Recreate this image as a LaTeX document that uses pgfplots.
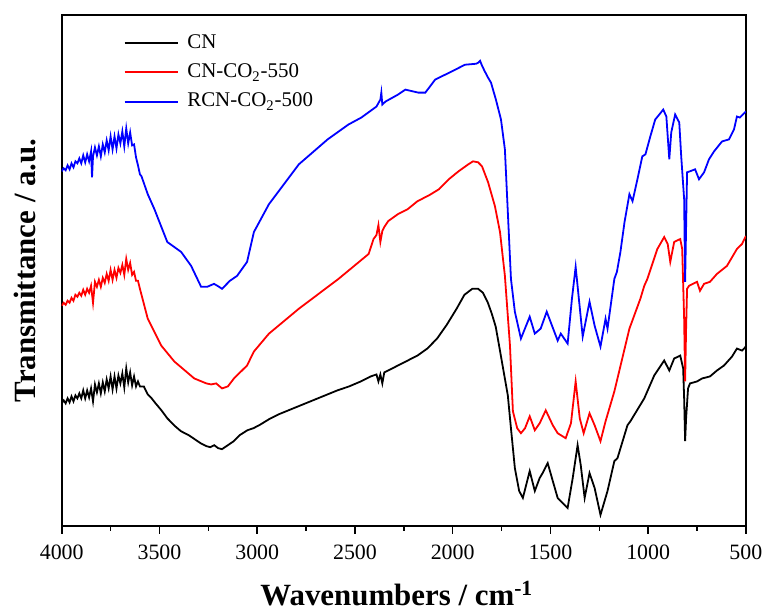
\documentclass[border=0pt]{standalone}
\usepackage{fontspec}
\setmainfont{Liberation Serif}
\usepackage{pgfplots}
\pgfplotsset{compat=1.18}
\usetikzlibrary{calc}
\begin{document}
\begin{tikzpicture}
\begin{axis}[
  scale only axis,
  width=343.5pt, height=256.5pt,
  xmin=500, xmax=4000, ymin=0, ymax=513,
  x dir=reverse,
  xtick={500,1000,...,4000},
  minor x tick num=1,
  ytick=\empty,
  xtick pos=bottom,
  tick align=outside,
  major tick length=4pt,
  minor tick length=2.5pt,
  axis line style={line width=1pt},
  every tick/.style={line width=0.8pt, black},
  /pgf/number format/assume math mode=true,
  /pgf/number format/1000 sep={},
  ticklabel style={font=\fontsize{11}{12}\selectfont},
  xticklabel style={yshift=-2pt},
  xlabel={\textbf{Wavenumbers / cm\textsuperscript{-1}}},
  ylabel={\textbf{Transmittance / a.u.}},
  label style={font=\fontsize{15.5}{17}\selectfont},
  xlabel style={at={(axis description cs:0.5,0)}, anchor=base, yshift=-40pt, xshift=-3.5pt},
  ylabel style={yshift=5.5pt},
  legend style={draw=none, fill=none, at={(0.090,0.97)}, anchor=north west,
    font=\fontsize{10.5}{12}\selectfont, row sep=2.2pt, inner sep=0pt},
  legend cell align=left,
  legend image code/.code={\draw[#1, line width=1pt] (0pt,0pt) -- (27pt,0pt); \path (29pt,0pt);},
  every axis plot/.append style={line width=0.9pt},
]
\addplot[black] coordinates {
(4000,123)(3990,126)(3980,123)(3970,128)(3960,124)(3950,130)(3940,125)(3930,131)(3920,128)(3910,133)
(3900,128)(3890,136)(3880,128)(3870,136)(3860,129)(3850,138)(3840,125)(3830,142)(3820,134)(3810,143)
(3800,133)(3790,144)(3780,135)(3770,147)(3760,138)(3750,150)(3740,137)(3730,150)(3720,138)(3710,151)
(3700,143)(3690,153)(3680,139)(3670,158)(3660,144)(3650,154)(3640,141)(3630,150)(3620,140)(3610,145)
(3600,140)(3580,140)(3560,132)(3540,128)(3520,123)(3490,116)(3460,108)(3420,100)(3390,95)(3350,91)
(3320,87)(3290,83)(3260,80)(3240,79)(3220,81)(3200,78)(3180,77)(3150,81)(3120,85)(3090,91)
(3050,96)(3020,98)(2990,101)(2940,107)(2890,112)(2790,120)(2690,128)(2590,136)(2530,140)(2470,145)
(2420,150)(2390,152)(2380,145)(2370,152)(2360,143)(2350,154)(2330,156)(2280,161)(2240,165)(2180,171)
(2130,178)(2080,188)(2030,202)(1980,218)(1940,232)(1900,238)(1870,238)(1845,234)(1820,224)(1800,213)
(1780,200)(1760,178)(1735,150)(1718,131)(1702,98)(1682,58)(1660,35)(1641,28)(1606,55)(1580,35)
(1555,48)(1540,53)(1514,63)(1488,45)(1463,28)(1412,18)(1386,48)(1361,81)(1345,61)(1325,28)
(1300,53)(1274,38)(1244,11)(1208,35)(1173,65)(1157,68)(1106,101)(1091,105)(1020,128)(969,151)
(918,166)(892,156)(867,168)(836,171)(821,158)(816,128)(811,85)(806,108)(796,138)(786,143)
(750,145)(724,148)(684,150)(648,156)(612,161)(571,170)(546,178)(520,176)(500,180)
};
\addlegendentry{CN}
\addplot[red] coordinates {
(4000,221)(3990,224)(3980,222)(3970,226)(3960,224)(3950,229)(3940,226)(3930,232)(3920,230)(3910,234)
(3900,231)(3890,237)(3880,232)(3870,238)(3860,234)(3850,241)(3840,224)(3830,245)(3820,240)(3810,247)
(3800,240)(3790,249)(3780,244)(3770,253)(3760,246)(3750,257)(3740,247)(3730,257)(3720,249)(3710,259)
(3700,254)(3690,262)(3680,252)(3670,268)(3660,257)(3650,264)(3640,252)(3630,255)(3620,246)(3610,246)
(3600,238)(3560,208)(3491,181)(3424,165)(3322,148)(3260,143)(3236,142)(3210,143)(3180,138)(3150,140)
(3119,148)(3052,161)(3017,175)(2940,193)(2787,218)(2584,248)(2430,273)(2405,288)(2390,292)(2380,302)
(2370,285)(2360,296)(2350,300)(2330,306)(2280,313)(2230,318)(2180,326)(2120,332)(2070,338)(2020,348)
(1970,356)(1920,363)(1896,366)(1870,365)(1850,361)(1819,345)(1784,321)(1758,295)(1733,251)(1707,181)
(1692,115)(1670,98)(1651,93)(1630,98)(1606,110)(1580,96)(1555,103)(1524,116)(1488,101)(1463,93)
(1422,88)(1395,103)(1371,145)(1350,108)(1330,93)(1300,113)(1274,101)(1244,85)(1218,105)(1173,135)
(1096,198)(1040,228)(1020,241)(1004,248)(953,278)(918,290)(900,283)(887,265)(867,285)(836,288)
(826,278)(816,208)(811,145)(806,198)(801,238)(791,241)(750,245)(735,236)(714,243)(684,245)
(648,253)(597,261)(546,278)(520,283)(500,291)
};
\addlegendentry{CN-CO\textsubscript{2}-550}
\addplot[blue] coordinates {
(4000,356)(3990,359)(3980,357)(3970,362)(3960,358)(3950,364)(3940,360)(3930,366)(3920,364)(3910,369)
(3900,364)(3890,372)(3880,365)(3870,373)(3860,366)(3850,376)(3845,350)(3840,371)(3830,380)(3820,372)
(3810,381)(3800,371)(3790,383)(3780,375)(3770,387)(3760,377)(3750,391)(3740,378)(3730,391)(3720,379)
(3710,393)(3700,384)(3690,396)(3680,381)(3670,399)(3660,384)(3650,395)(3640,382)(3630,383)(3620,370)
(3610,362)(3600,353)(3592,351)(3560,333)(3526,318)(3460,285)(3389,275)(3338,261)(3287,240)(3256,240)
(3221,243)(3195,240)(3180,238)(3140,246)(3103,251)(3052,265)(3017,295)(2940,323)(2787,363)(2640,388)
(2533,403)(2467,410)(2390,421)(2370,428)(2365,435)(2360,423)(2344,426)(2280,433)(2242,438)(2176,435)
(2140,435)(2090,448)(2008,456)(1937,463)(1880,464)(1870,465)(1860,467)(1850,462)(1835,456)(1819,450)
(1804,445)(1779,428)(1753,408)(1733,378)(1702,248)(1682,215)(1651,188)(1606,210)(1580,193)(1550,198)
(1519,215)(1463,186)(1447,193)(1412,183)(1390,228)(1371,260)(1335,190)(1300,225)(1274,201)(1244,180)
(1218,208)(1208,198)(1173,248)(1160,255)(1142,275)(1121,305)(1096,333)(1080,326)(1055,348)(1030,371)
(1014,373)(989,391)(964,408)(943,413)(923,418)(907,411)(892,368)(882,395)(862,413)(841,405)
(831,371)(816,328)(811,245)(801,355)(786,356)(760,358)(740,348)(714,355)(689,368)(663,376)
(622,386)(587,388)(561,398)(546,411)(531,410)(500,416)
};
\addlegendentry{RCN-CO\textsubscript{2}-500}
\end{axis}
\path ($(current axis.south west)+(-31pt,-42.5pt)$) rectangle ($(current axis.north east)+(10pt,7.5pt)$);
\end{tikzpicture}
\end{document}
